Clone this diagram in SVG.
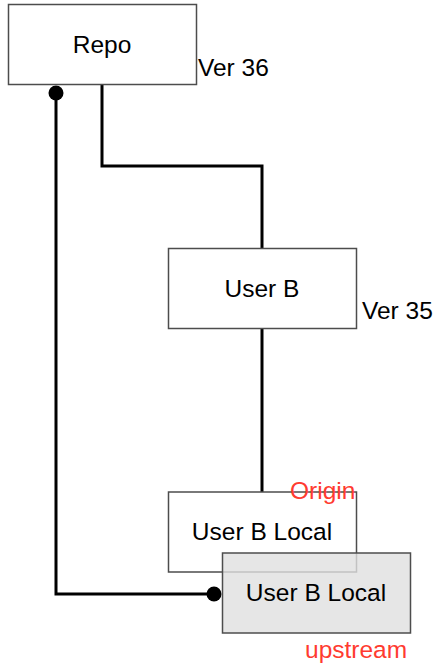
<svg xmlns="http://www.w3.org/2000/svg" width="441" height="669" viewBox="0 0 441 669">
  <style>
    .box { fill: #ffffff; stroke: #4d4d4d; stroke-width: 1.5; }
    .grey { fill: #e0e0e0; fill-opacity: 0.8; stroke: #4d4d4d; stroke-width: 1.5; }
    .lbl { font-family: "Liberation Sans", Arial, sans-serif; font-size: 24.5px; fill: #000000; }
    .mid { text-anchor: middle; }
    .red { font-family: "Liberation Sans", Arial, sans-serif; font-size: 24.5px; fill: #ff3b30; }
    .edge { fill: none; stroke: #000000; stroke-width: 3; }
    .dot { fill: #000000; }
  </style>
  <rect width="441" height="669" fill="#ffffff"/>
  <g id="connectors">
    <path class="edge" d="M102 84 V166 H262 V248"/>
    <path class="edge" d="M262 328 V492"/>
    <path class="edge" d="M56 93 V594 H214"/>
    <circle class="dot" cx="56" cy="93" r="7.5"/>
    <circle class="dot" cx="214" cy="594" r="7.5"/>
  </g>
  <g id="repo">
    <rect class="box" x="8.5" y="4.5" width="188" height="80"/>
    <text class="lbl mid" x="102" y="53">Repo</text>
    <text class="lbl" x="198" y="76">Ver 36</text>
  </g>
  <g id="userB">
    <rect class="box" x="168.5" y="248.5" width="188" height="80"/>
    <text class="lbl mid" x="262" y="297">User B</text>
    <text class="lbl" x="362" y="319">Ver 35</text>
  </g>
  <g id="userBLocalOrigin">
    <rect class="box" x="168.5" y="492" width="188" height="80"/>
    <text class="lbl mid" x="262" y="540">User B Local</text>
    <text class="red" x="290" y="499">Origin</text>
  </g>
  <g id="userBLocalUpstream">
    <rect class="grey" x="222.5" y="553" width="188" height="80"/>
    <text class="lbl mid" x="316" y="601">User B Local</text>
    <text class="red" x="305" y="658">upstream</text>
  </g>
</svg>
